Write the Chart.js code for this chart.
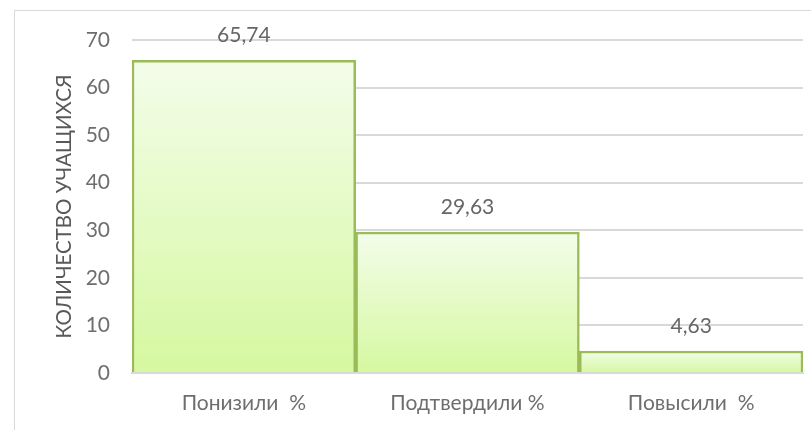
<!DOCTYPE html>
<html><head><meta charset="utf-8">
<script src="https://cdn.jsdelivr.net/npm/chart.js@4.4.0/dist/chart.umd.min.js"></script>
<style>
html,body{margin:0;padding:0;background:#fff;}
#wrap{position:absolute;left:0;top:0;width:811px;height:430px;}
#frame{position:absolute;left:14px;top:10px;width:820px;height:440px;border:1.5px solid #d9d9d9;box-sizing:border-box;}
canvas{position:absolute;left:0;top:0;}
</style></head><body>
<div id="wrap"><div id="frame"></div><canvas id="c" width="811" height="430"></canvas></div>
<script>
const categories = ["Понизили  %", "Подтвердили %", "Повысили  %"];
const values = [65.74, 29.63, 4.63];
const valueLabels = ["65,74", "29,63", "4,63"];
const yTicks = [0, 10, 20, 30, 40, 50, 60, 70];
const yTitle = "КОЛИЧЕСТВО УЧАЩИХСЯ";

const FONT = "Lato, 'Open Sans', sans-serif";

function barGradient(ctx) {
  const chart = ctx.chart;
  const ys = chart.scales.y;
  if (!chart.chartArea || !ys || ctx.dataIndex === undefined) return '#e4fbc6';
  const top = ys.getPixelForValue(values[ctx.dataIndex]);
  const base = ys.getPixelForValue(0);
  const g = chart.ctx.createLinearGradient(0, top, 0, base);
  g.addColorStop(0, '#f3fdea');
  g.addColorStop(1, '#d6f8a0');
  return g;
}

const labelPlugin = {
  id: 'valueLabels',
  afterDatasetsDraw(chart) {
    const c = chart.ctx;
    const meta = chart.getDatasetMeta(0);
    c.save();
    c.font = "21px " + FONT;
    c.fillStyle = '#666666';
    c.textAlign = 'center';
    c.textBaseline = 'middle';
    meta.data.forEach((el, i) => {
      c.fillText(valueLabels[i], el.x, el.y - 25);
    });
    c.restore();
  }
};

new Chart(document.getElementById('c'), {
  type: 'bar',
  data: {
    labels: categories,
    datasets: [{
      data: values,
      backgroundColor: barGradient,
      borderColor: '#9bbb59',
      borderWidth: 2.5,
      borderSkipped: 'bottom',
      barPercentage: 1,
      categoryPercentage: 1
    }]
  },
  options: {
    responsive: false,
    animation: false,
    devicePixelRatio: 1,
    layout: { padding: { left: 47, right: 8, top: 40, bottom: 0 } },
    plugins: { legend: { display: false }, tooltip: { enabled: false } },
    scales: {
      x: {
        grid: { display: false, drawTicks: false },
        border: { display: true, color: '#d9d9d9', width: 2 },
        ticks: { color: '#6e6e6e', font: { family: FONT, size: 21 }, padding: 18 },
        afterFit(s) { s.height = 57; }
      },
      y: {
        min: 0, max: 70,
        afterBuildTicks(s) { s.ticks = yTicks.map(v => ({ value: v })); },
        grid: { color: '#d9d9d9', lineWidth: 2, drawTicks: false },
        border: { display: false },
        ticks: { color: '#6e6e6e', font: { family: FONT, size: 21 }, padding: 22 },
        title: { display: true, text: yTitle, color: '#595959', font: { family: FONT, size: 20.5 }, padding: { top: 5, bottom: 0 } },
        afterFit(s) { s.width = 85; }
      }
    }
  },
  plugins: [labelPlugin]
});
</script>
</body></html>
